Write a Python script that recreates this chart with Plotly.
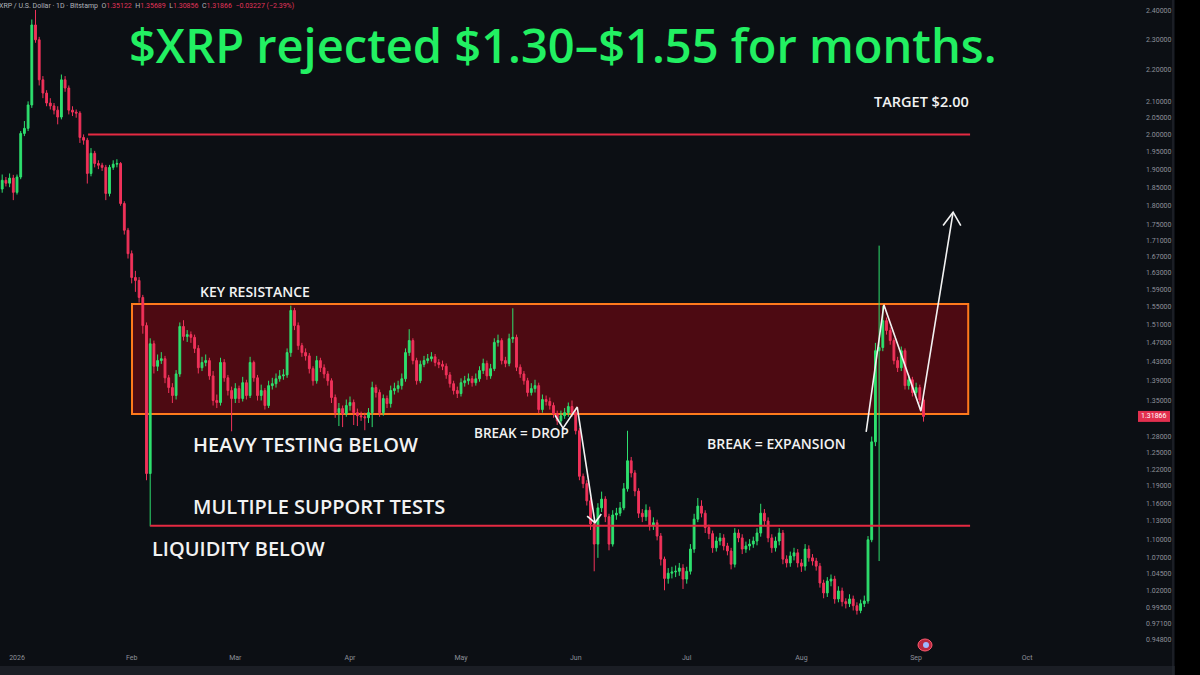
import math
import pandas as pd
import plotly.graph_objects as go

# ---------------- data ----------------
start_date = "2025-12-28"
first_open = 1.845

closes = [
    1.869, 1.861, 1.875, 1.836, 1.878, 2.003, 2.018, 2.089, 2.351, 2.300,
    2.168, 2.126, 2.095, 2.086, 2.073, 2.052, 2.168, 2.142, 2.073, 2.067,
    2.064, 1.991, 1.983, 1.888, 1.945, 1.916, 1.911, 1.905, 1.833, 1.905,
    1.914, 1.916, 1.806, 1.736, 1.677, 1.619, 1.612, 1.572, 1.508, 1.212,
    1.468, 1.420, 1.432, 1.436, 1.396, 1.376, 1.360, 1.404, 1.506, 1.484,
    1.488, 1.482, 1.458, 1.417, 1.428, 1.432, 1.400, 1.350, 1.346, 1.428,
    1.396, 1.370, 1.354, 1.374, 1.354, 1.386, 1.360, 1.428, 1.396, 1.360,
    1.370, 1.340, 1.380, 1.384, 1.394, 1.400, 1.402, 1.449, 1.542, 1.508,
    1.464, 1.449, 1.442, 1.415, 1.390, 1.432, 1.417, 1.404, 1.390, 1.356,
    1.326, 1.334, 1.324, 1.340, 1.346, 1.326, 1.320, 1.318, 1.316, 1.326,
    1.376, 1.366, 1.326, 1.354, 1.344, 1.370, 1.374, 1.380, 1.394, 1.449,
    1.475, 1.432, 1.390, 1.424, 1.432, 1.436, 1.440, 1.428, 1.424, 1.420,
    1.402, 1.384, 1.370, 1.364, 1.386, 1.390, 1.394, 1.386, 1.394, 1.411,
    1.426, 1.400, 1.415, 1.471, 1.475, 1.432, 1.426, 1.479, 1.482, 1.418,
    1.404, 1.390, 1.366, 1.374, 1.380, 1.332, 1.352, 1.348, 1.340, 1.324,
    1.310, 1.320, 1.326, 1.338, 1.326, 1.291, 1.207, 1.194, 1.164, 1.125,
    1.092, 1.152, 1.167, 1.137, 1.092, 1.140, 1.143, 1.152, 1.185, 1.235,
    1.213, 1.181, 1.143, 1.137, 1.148, 1.122, 1.127, 1.105, 1.068, 1.038,
    1.046, 1.048, 1.049, 1.054, 1.037, 1.049, 1.084, 1.133, 1.155, 1.143,
    1.119, 1.109, 1.086, 1.097, 1.102, 1.089, 1.081, 1.060, 1.110, 1.102,
    1.084, 1.089, 1.092, 1.097, 1.110, 1.143, 1.130, 1.102, 1.086, 1.097,
    1.110, 1.068, 1.062, 1.073, 1.078, 1.062, 1.057, 1.084, 1.070, 1.065,
    1.057, 1.031, 1.016, 1.034, 1.037, 1.007, 1.019, 1.003, 1.000, 1.007,
    0.997, 0.990, 1.000, 1.004, 1.099, 1.270, 1.453, 1.460, 1.519, 1.497,
    1.475, 1.432, 1.417, 1.453, 1.380, 1.392, 1.366, 1.376, 1.35122, 1.31866,
]

highs = [
    1.885, 1.878, 1.888, 1.884, 1.885, 2.010, 2.040, 2.100, 2.370, 2.404,
    2.310, 2.180, 2.135, 2.110, 2.095, 2.085, 2.185, 2.180, 2.150, 2.085,
    2.075, 2.070, 2.000, 1.990, 1.960, 1.952, 1.925, 1.918, 1.912, 1.912,
    1.925, 1.928, 1.920, 1.812, 1.742, 1.685, 1.635, 1.620, 1.578, 1.515,
    1.480, 1.475, 1.445, 1.450, 1.442, 1.402, 1.385, 1.412, 1.515, 1.520,
    1.498, 1.495, 1.488, 1.465, 1.440, 1.445, 1.438, 1.410, 1.362, 1.438,
    1.435, 1.402, 1.378, 1.385, 1.380, 1.398, 1.392, 1.440, 1.432, 1.402,
    1.382, 1.375, 1.390, 1.396, 1.405, 1.412, 1.414, 1.458, 1.553, 1.548,
    1.515, 1.470, 1.458, 1.448, 1.420, 1.442, 1.438, 1.424, 1.410, 1.395,
    1.362, 1.345, 1.340, 1.352, 1.358, 1.352, 1.334, 1.328, 1.326, 1.335,
    1.388, 1.382, 1.372, 1.362, 1.360, 1.380, 1.386, 1.390, 1.405, 1.458,
    1.500, 1.480, 1.438, 1.432, 1.442, 1.446, 1.450, 1.446, 1.435, 1.432,
    1.426, 1.408, 1.390, 1.378, 1.395, 1.400, 1.405, 1.400, 1.405, 1.420,
    1.436, 1.432, 1.425, 1.480, 1.488, 1.480, 1.440, 1.490, 1.547, 1.488,
    1.424, 1.410, 1.396, 1.385, 1.392, 1.386, 1.362, 1.360, 1.356, 1.346,
    1.330, 1.330, 1.335, 1.346, 1.350, 1.334, 1.296, 1.212, 1.200, 1.170,
    1.130, 1.160, 1.180, 1.172, 1.142, 1.148, 1.152, 1.162, 1.195, 1.291,
    1.242, 1.218, 1.186, 1.150, 1.158, 1.154, 1.136, 1.132, 1.110, 1.072,
    1.054, 1.056, 1.058, 1.062, 1.060, 1.056, 1.092, 1.142, 1.169, 1.165,
    1.148, 1.124, 1.114, 1.104, 1.110, 1.108, 1.094, 1.086, 1.118, 1.116,
    1.108, 1.096, 1.100, 1.104, 1.118, 1.159, 1.150, 1.136, 1.108, 1.104,
    1.118, 1.115, 1.074, 1.080, 1.086, 1.084, 1.068, 1.092, 1.090, 1.076,
    1.070, 1.062, 1.036, 1.040, 1.044, 1.042, 1.026, 1.024, 1.008, 1.014,
    1.012, 1.002, 1.006, 1.012, 1.105, 1.280, 1.470, 1.697, 1.553, 1.526,
    1.504, 1.480, 1.440, 1.462, 1.458, 1.402, 1.398, 1.386, 1.382, 1.35689,
]

lows = [
    1.835, 1.852, 1.850, 1.815, 1.830, 1.872, 1.995, 2.010, 2.080, 2.290,
    2.150, 2.110, 2.085, 2.075, 2.060, 2.030, 2.045, 2.130, 2.060, 2.055,
    2.050, 1.975, 1.970, 1.860, 1.880, 1.905, 1.900, 1.895, 1.815, 1.825,
    1.898, 1.905, 1.800, 1.725, 1.665, 1.605, 1.585, 1.560, 1.490, 1.200,
    1.121, 1.405, 1.410, 1.425, 1.385, 1.365, 1.345, 1.352, 1.398, 1.475,
    1.472, 1.470, 1.448, 1.405, 1.410, 1.420, 1.392, 1.340, 1.335, 1.340,
    1.388, 1.360, 1.290, 1.345, 1.345, 1.348, 1.352, 1.355, 1.388, 1.350,
    1.350, 1.332, 1.335, 1.372, 1.376, 1.388, 1.392, 1.396, 1.440, 1.498,
    1.455, 1.440, 1.432, 1.405, 1.380, 1.384, 1.408, 1.395, 1.380, 1.345,
    1.316, 1.300, 1.298, 1.318, 1.330, 1.302, 1.300, 1.310, 1.292, 1.306,
    1.298, 1.356, 1.318, 1.320, 1.335, 1.336, 1.362, 1.366, 1.372, 1.388,
    1.442, 1.424, 1.382, 1.385, 1.418, 1.426, 1.430, 1.420, 1.416, 1.412,
    1.394, 1.376, 1.362, 1.355, 1.358, 1.378, 1.382, 1.378, 1.380, 1.388,
    1.404, 1.392, 1.394, 1.410, 1.462, 1.424, 1.418, 1.420, 1.470, 1.410,
    1.396, 1.382, 1.358, 1.360, 1.366, 1.325, 1.326, 1.340, 1.332, 1.316,
    1.302, 1.304, 1.314, 1.318, 1.318, 1.284, 1.200, 1.186, 1.156, 1.115,
    1.049, 1.070, 1.145, 1.128, 1.082, 1.088, 1.132, 1.138, 1.148, 1.180,
    1.205, 1.172, 1.135, 1.128, 1.130, 1.114, 1.115, 1.098, 1.058, 1.020,
    1.030, 1.038, 1.040, 1.042, 1.022, 1.030, 1.044, 1.078, 1.128, 1.136,
    1.110, 1.100, 1.078, 1.080, 1.090, 1.082, 1.074, 1.052, 1.055, 1.095,
    1.076, 1.078, 1.082, 1.086, 1.090, 1.104, 1.122, 1.095, 1.078, 1.080,
    1.090, 1.060, 1.055, 1.056, 1.066, 1.055, 1.048, 1.050, 1.064, 1.058,
    1.050, 1.024, 1.008, 1.010, 1.026, 1.000, 1.002, 0.996, 0.993, 0.995,
    0.990, 0.984, 0.986, 0.995, 1.000, 1.095, 1.262, 1.065, 1.452, 1.488,
    1.466, 1.424, 1.408, 1.410, 1.372, 1.372, 1.358, 1.360, 1.344, 1.30856,
]

# key levels
target_level = 2.00
support_level = 1.122
range_low = 1.3234
range_high = 1.557
last_price = 1.31866

# hand-drawn path points (date, price)
drop_path_dates = ["2026-05-26 10:00", "2026-05-28 14:00", "2026-06-01 10:00", "2026-06-06 05:00"]
drop_path_prices = [1.321, 1.296, 1.337, 1.127]
drop_head_dates = ["2026-06-04 02:00", "2026-06-06 05:00", "2026-06-07 22:00"]
drop_head_prices = [1.138, 1.127, 1.1417]

exp_path_dates = ["2026-08-18 12:00", "2026-08-23 07:00", "2026-09-02 07:00", "2026-09-11 00:00"]
exp_path_prices = [1.289, 1.555, 1.329, 1.783]
exp_head_dates = ["2026-09-08 07:00", "2026-09-11 00:00", "2026-09-13 02:00"]
exp_head_prices = [1.748, 1.783, 1.748]

# axis ticks
ytick_vals = [2.40, 2.30, 2.20, 2.10, 2.05, 2.00, 1.95, 1.90, 1.85, 1.80, 1.75, 1.71,
              1.67, 1.63, 1.59, 1.55, 1.51, 1.47, 1.43, 1.39, 1.35, 1.28, 1.25, 1.22,
              1.19, 1.16, 1.13, 1.10, 1.07, 1.045, 1.02, 0.995, 0.971, 0.948]
xtick_vals = ["2026-01-01", "2026-02-01", "2026-03-01", "2026-04-01", "2026-05-01",
              "2026-06-01", "2026-07-01", "2026-08-01", "2026-09-01", "2026-10-01"]
xtick_text = ["2026", "Feb", "Mar", "Apr", "May", "Jun", "Jul", "Aug", "Sep", "Oct"]

# ---------------- build ----------------
dates = pd.date_range(start_date, periods=len(closes), freq="D")
opens = [first_open] + closes[:-1]

BG = "#0c0f14"
GREEN = "#2ee06e"
RED = "#f0325a"
WHITE = "#f2f2f2"
PW, PH = 1137.0, 652.0  # plot area in px


def px(x):
    return x / PW


def py(y):
    return 1 - y / PH


fig = go.Figure()
fig.add_trace(go.Candlestick(
    x=dates, open=opens, high=highs, low=lows, close=closes,
    increasing=dict(line=dict(color=GREEN, width=1), fillcolor=GREEN),
    decreasing=dict(line=dict(color=RED, width=1), fillcolor=RED),
    whiskerwidth=0, showlegend=False, hoverinfo="skip",
))

for dx, dy in [(drop_path_dates, drop_path_prices), (drop_head_dates, drop_head_prices),
               (exp_path_dates, exp_path_prices), (exp_head_dates, exp_head_prices)]:
    fig.add_trace(go.Scatter(x=dx, y=dy, mode="lines", line=dict(color=WHITE, width=1.6),
                             showlegend=False, hoverinfo="skip"))

shapes = [
    # resistance box
    dict(type="rect", xref="x", yref="y", x0="2026-02-01 02:00", x1="2026-09-15 02:00",
         y0=range_low, y1=range_high, fillcolor="#4d0a12", line=dict(color="#ff7a1c", width=2),
         layer="below"),
    # target line
    dict(type="line", xref="x", yref="y", x0="2026-01-20 05:00", x1="2026-09-15 14:00",
         y0=target_level, y1=target_level, line=dict(color="#e52a42", width=2)),
    # support line
    dict(type="line", xref="x", yref="y", x0="2026-02-06 00:00", x1="2026-09-15 14:00",
         y0=support_level, y1=support_level, line=dict(color="#e52a42", width=2)),
    # price label
    dict(type="rect", xref="paper", yref="y", x0=px(1138), x1=px(1170),
         y0=last_price * math.exp(-5.5 / 677), y1=last_price * math.exp(5.5 / 677),
         fillcolor="#e3304f", line=dict(width=0)),
    # bottom strip
    dict(type="rect", xref="paper", yref="paper", x0=0, x1=px(1175), y0=py(675), y1=py(666),
         fillcolor="#1b1e25", line=dict(width=0)),
    # axis border
    dict(type="line", xref="paper", yref="paper", x0=px(1173), x1=px(1173), y0=py(675), y1=1,
         line=dict(color="#2a2e37", width=1)),
    # right black strip
    dict(type="rect", xref="paper", yref="paper", x0=px(1175), x1=px(1205), y0=py(680), y1=1.01,
         fillcolor="#000000", line=dict(width=0)),
    # event icon
    dict(type="circle", xref="paper", yref="paper", x0=px(918), x1=px(932), y0=py(651), y1=py(639),
         fillcolor="#b8283f", line=dict(color="#ff5a70", width=1)),
    dict(type="circle", xref="paper", yref="paper", x0=px(923), x1=px(929), y0=py(648), y1=py(642),
         fillcolor="#9fb8ff", line=dict(width=0)),
]

TXT = "Open Sans"
annotations = [
    dict(x=px(563), y=py(45), xref="paper", yref="paper", text="$XRP rejected $1.30–$1.55 for months.",
         showarrow=False, xanchor="center", yanchor="middle",
         font=dict(family=TXT, size=47, color="#22f062", weight=600)),
    dict(x=px(198), y=py(291), xref="paper", yref="paper", text="KEY RESISTANCE", showarrow=False,
         xanchor="left", yanchor="middle", font=dict(family=TXT, size=14, color=WHITE, weight=600)),
    dict(x=px(191), y=py(445), xref="paper", yref="paper", text="HEAVY TESTING BELOW", showarrow=False,
         xanchor="left", yanchor="middle", font=dict(family=TXT, size=20, color=WHITE, weight=600)),
    dict(x=px(191), y=py(507), xref="paper", yref="paper", text="MULTIPLE SUPPORT TESTS", showarrow=False,
         xanchor="left", yanchor="middle", font=dict(family=TXT, size=20, color=WHITE, weight=600)),
    dict(x=px(150), y=py(548), xref="paper", yref="paper", text="LIQUIDITY BELOW", showarrow=False,
         xanchor="left", yanchor="middle", font=dict(family=TXT, size=20, color=WHITE, weight=600)),
    dict(x=px(472), y=py(433), xref="paper", yref="paper", text="BREAK = DROP", showarrow=False,
         xanchor="left", yanchor="middle", font=dict(family=TXT, size=13.5, color=WHITE, weight=600)),
    dict(x=px(705), y=py(443), xref="paper", yref="paper", text="BREAK = EXPANSION", showarrow=False,
         xanchor="left", yanchor="middle", font=dict(family=TXT, size=14, color=WHITE, weight=600)),
    dict(x=px(872), y=py(102), xref="paper", yref="paper", text="TARGET $2.00", showarrow=False,
         xanchor="left", yanchor="middle", font=dict(family=TXT, size=14.5, color=WHITE, weight=600)),
    dict(x=px(-3), y=py(6), xref="paper", yref="paper",
         text=("XRP / U.S. Dollar · 1D · Bitstamp  O<span style='color:#e0345a'>1.35122</span>  "
               "H<span style='color:#e0345a'>1.35689</span>  L<span style='color:#e0345a'>1.30856</span>  "
               "C<span style='color:#e0345a'>1.31866</span>  <span style='color:#e0345a'>−0.03227 (−2.39%)</span>"),
         showarrow=False, xanchor="left", yanchor="middle",
         font=dict(family="Roboto", size=7, color="#b0b3bb")),
    dict(x=px(1154), y=math.log10(last_price), xref="paper", yref="y", text="1.31866", showarrow=False,
         xanchor="center", yanchor="middle", font=dict(family="Roboto", size=7, color="#ffffff")),
]

fig.update_layout(
    width=1200, height=675,
    margin=dict(l=0, r=63, t=0, b=23, pad=0),
    paper_bgcolor=BG, plot_bgcolor=BG,
    shapes=shapes, annotations=annotations,
    showlegend=False,
    xaxis=dict(
        type="date", range=["2025-12-27 09:43", "2026-10-30 16:48"],
        rangeslider=dict(visible=False), showgrid=False, zeroline=False, showline=False,
        tickvals=xtick_vals, ticktext=xtick_text, ticks="",
        tickfont=dict(family="Roboto", size=7, color="#8d9099"),
    ),
    yaxis=dict(
        type="log", side="right",
        range=[math.log10(0.9311), math.log10(2.4393)],
        showgrid=False, zeroline=False, showline=False, ticks="",
        tickvals=ytick_vals, ticktext=[f"{v:.5f}" for v in ytick_vals],
        tickfont=dict(family="Roboto", size=7, color="#8d9099"),
        ticklabelstandoff=8,
    ),
)

fig.write_html(
    "out.html",
    config={"displayModeBar": False},
    post_script="document.body.style.margin='0';document.body.style.overflow='hidden';"
                "document.body.style.background='#000';",
)
